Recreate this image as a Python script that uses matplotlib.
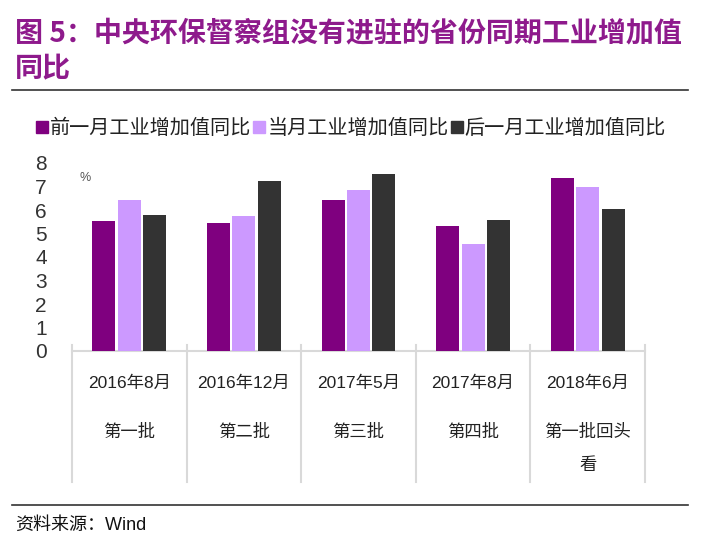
import matplotlib
matplotlib.use('Agg')
from matplotlib import pyplot as plt
from matplotlib.lines import Line2D
import numpy as np

plt.rcParams['font.family'] = ['Liberation Sans', 'Noto Sans CJK SC', 'DejaVu Sans']

# 数据
dates = ['2016年8月', '2016年12月', '2017年5月', '2017年8月', '2018年6月']
batches = ['第一批', '第二批', '第三批', '第四批', '第一批回头\n看']
series_names = ['前一月工业增加值同比', '当月工业增加值同比', '后一月工业增加值同比']
before = [5.55, 5.43, 6.42, 5.32, 7.35]
current = [6.42, 5.76, 6.87, 4.55, 6.96]
after = [5.77, 7.23, 7.53, 5.59, 6.03]
colors = ['#7F007F', '#CC99FF', '#333333']

fig = plt.figure(figsize=(7.05, 5.49), dpi=100)
ax = fig.add_axes([72/705, 198/549, 573/705, 188/549])
ppu = 188 / 8  # 每单位像素

x = np.arange(len(dates))
w = 0.2
for i, (vals, c) in enumerate(zip([before, current, after], colors)):
    ax.bar(x + (i - 1) * 0.222, vals, width=w, color=c, zorder=3)

ax.set_xlim(-0.5, len(dates) - 0.5)
ax.set_ylim(0, 8)
ax.set_yticks(range(9))
ax.tick_params(axis='y', length=0, pad=18, labelsize=15, labelcolor='#333333')
ax.set_xticks([])
for s in ['top', 'right', 'left']:
    ax.spines[s].set_visible(False)
ax.spines['bottom'].set_color('#D9D9D9')
ax.spines['bottom'].set_linewidth(1.5)

# 分隔线
for b in np.arange(-0.5, len(dates), 1.0):
    ax.plot([b, b], [-131 / ppu, 6 / ppu], color='#D9D9D9', lw=1.5, clip_on=False, zorder=1)

# 类别标签
for i in range(len(dates)):
    ax.text(x[i], -32 / ppu, dates[i], ha='center', va='center', fontsize=12.5, color='#222222')
    for j, line in enumerate(batches[i].split('\n')):
        ax.text(x[i], -(81 + 33 * j) / ppu, line, ha='center', va='center',
                fontsize=12.5, color='#222222')

ax.text(-0.385, 7.35, '%', fontsize=9, color='#555555', ha='center', va='center')

# 图例
handles = [Line2D([0], [0], marker='s', color='none', markerfacecolor=c,
                  markeredgecolor=c, markersize=9) for c in colors]
fig.legend(handles, series_names, loc='center left', bbox_to_anchor=(28/705, 1 - 128/549),
           ncol=3, frameon=False, handlelength=0.6, handletextpad=0.1, columnspacing=0.1,
           fontsize=14.5, labelcolor='#222222', borderaxespad=0)

# 标题
title_color = '#8E1A8C'
fig.text(15/705, 1 - 33/549, '图 5：中央环保督察组没有进驻的省份同期工业增加值',
         fontsize=20.2, fontweight='bold', color=title_color, va='center', ha='left',
         family=['Noto Sans CJK SC', 'DejaVu Sans'])
fig.text(15/705, 1 - 69/549, '同比', fontsize=20.2, fontweight='bold', color=title_color,
         va='center', ha='left', family=['Noto Sans CJK SC', 'DejaVu Sans'])
fig.add_artist(Line2D([12/705, 688/705], [1 - 90/549, 1 - 90/549], color='#333333', lw=1.2))
fig.add_artist(Line2D([12/705, 688/705], [1 - 505/549, 1 - 505/549], color='#333333', lw=1.2))
fig.text(15/705, 1 - 525/549, '资料来源：Wind', fontsize=13, color='#111111', va='center', ha='left')

fig.savefig('out.png', dpi=100)
